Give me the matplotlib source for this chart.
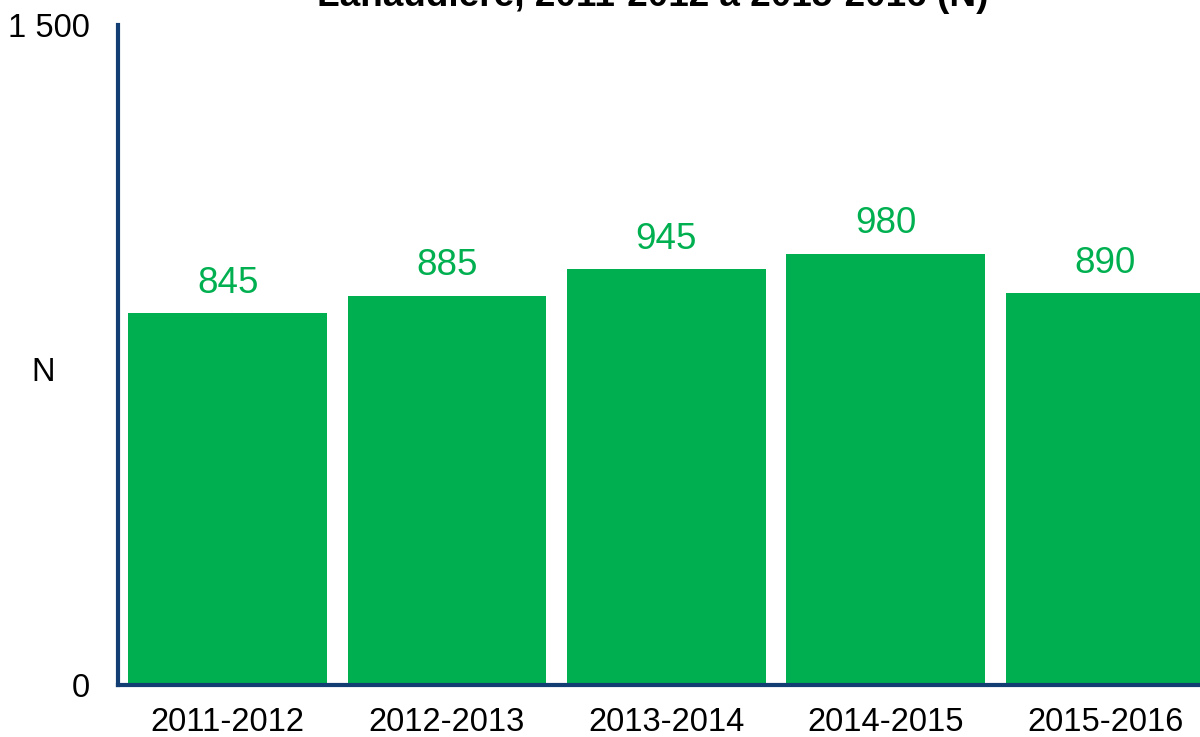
import matplotlib
matplotlib.use("Agg")
import matplotlib.pyplot as plt

plt.rcParams['font.family'] = ['Liberation Sans', 'DejaVu Sans']

seasons = ["2011-2012", "2012-2013", "2013-2014", "2014-2015", "2015-2016"]
counts = [845, 885, 945, 980, 890]
y_ticks = [0, 1500]
y_tick_labels = ["0", "1 500"]

GREEN = "#00B050"
NAVY = "#123E73"

fig = plt.figure(figsize=[12, 7.37], dpi=100)
# axes runs a bit past the right edge, like the cropped original
ax = fig.add_axes([0.0983, 0.0706, 0.914, 0.8955])

x = list(range(len(seasons)))
ax.bar(x, counts, width=0.907, color=GREEN, zorder=2)

for xi, v in zip(x, counts):
    ax.annotate(str(v), (xi, v), xytext=(0, 9), textcoords='offset points',
                ha='center', va='bottom', color=GREEN, fontsize=26.5)

ax.set_xlim(-0.5, 4.5)
ax.set_ylim(0, 1500)
ax.set_xticks(x)
ax.set_xticklabels(seasons, fontsize=23.5)
ax.set_yticks(y_ticks)
ax.set_yticklabels(y_tick_labels, fontsize=23.5)
ax.tick_params(axis='x', length=0, pad=16)
ax.tick_params(axis='y', length=0, pad=20)

ax.set_ylabel("N", rotation=0, fontsize=23.5)
ax.yaxis.set_label_coords(-0.068, 0.45)

for s in ['top', 'right']:
    ax.spines[s].set_visible(False)
for s in ['left', 'bottom']:
    ax.spines[s].set_color(NAVY)
    ax.spines[s].set_linewidth(3)

fig.text(652.5 / 1200, 1 - 6 / 737, "Lanaudière, 2011-2012 à 2015-2016 (N)",
         ha='center', va='baseline', fontsize=26.6, fontweight='bold')

plt.savefig("out.png")
plt.close()
